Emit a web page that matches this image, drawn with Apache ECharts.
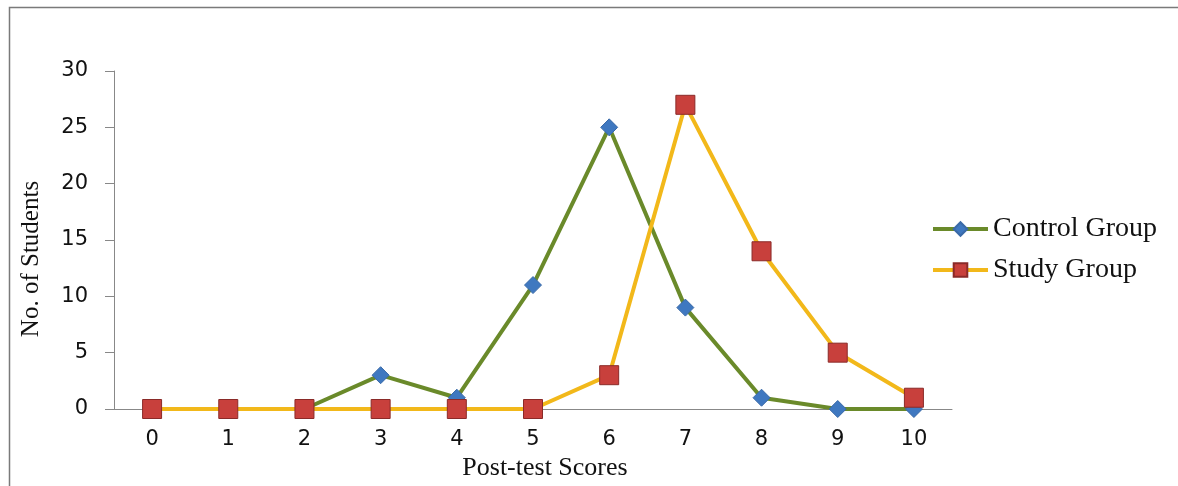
<!DOCTYPE html>
<html><head><meta charset="utf-8">
<script src="https://cdn.jsdelivr.net/npm/echarts@6/dist/echarts.min.js"></script>
<style>html,body{margin:0;padding:0;background:#fff}#c{width:1178px;height:486px}</style>
</head><body><div id="c"></div>
<script>
const categories = ['0','1','2','3','4','5','6','7','8','9','10'];
const controlGroup = [0,0,0,3,1,11,25,9,1,0,0];
const studyGroup = [0,0,0,0,0,0,3,27,14,5,1];
const yTicks = [0,5,10,15,20,25,30];

const chart = echarts.init(document.getElementById('c'));
chart.setOption({
  backgroundColor:'#fff',
  animation:false,
  graphic:[{type:'rect',shape:{x:9.5,y:7.5,width:1200,height:600},style:{fill:'none',stroke:'#7a7a7a',lineWidth:1.5},silent:true}],
  grid:{left:114,right:226,top:71,bottom:77},
  legend:{orient:'vertical',left:926,top:210,itemGap:13,itemWidth:55,itemHeight:17,
    lineStyle:{width:4},
    textStyle:{fontFamily:'Liberation Serif',fontSize:28,color:'#111'},
    data:['Control Group','Study Group']},
  xAxis:{type:'category',data:categories,boundaryGap:true,
    axisLine:{lineStyle:{color:'#888',width:1}},axisTick:{show:false},
    axisLabel:{fontFamily:'DejaVu Sans',fontSize:21,color:'#111',margin:20},
    name:'Post-test Scores',nameLocation:'middle',nameGap:46,
    nameTextStyle:{fontFamily:'Liberation Serif',fontSize:26,color:'#111',padding:[0,0,0,24]}},
  yAxis:{type:'value',min:0,max:30,interval:5,
    axisLine:{show:true,lineStyle:{color:'#888',width:1}},
    axisTick:{show:true,length:9,lineStyle:{color:'#888'}},
    splitLine:{show:false},
    axisLabel:{fontFamily:'DejaVu Sans',fontSize:21,color:'#111',margin:26,
      formatter:v=>yTicks.includes(v)?String(v):''},
    name:'No. of Students',nameLocation:'middle',nameGap:70,
    nameTextStyle:{fontFamily:'Liberation Serif',fontSize:25,color:'#111',padding:[0,38,0,0]}},
  series:[
    {name:'Control Group',type:'line',data:controlGroup,symbol:'diamond',symbolSize:17,
      lineStyle:{color:'#6a8a2a',width:4},itemStyle:{color:'#3f78c0',borderColor:'#3a6aa8',borderWidth:1},z:2},
    {name:'Study Group',type:'line',data:studyGroup,symbol:'rect',symbolSize:19,
      lineStyle:{color:'#f2b81a',width:4},itemStyle:{color:'#c8403c',borderColor:'#8a2a28',borderWidth:1},z:3}
  ]
});
</script></body></html>
